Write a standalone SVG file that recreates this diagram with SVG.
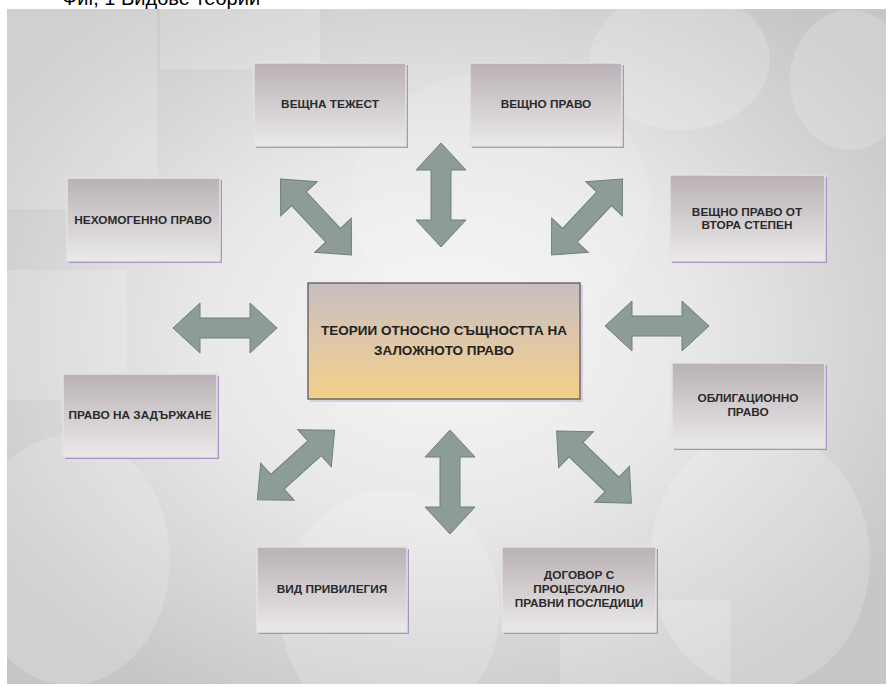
<svg xmlns="http://www.w3.org/2000/svg" width="889" height="687" viewBox="0 0 889 687">
<defs>
<radialGradient id="bg" cx="0.5" cy="0.48" r="0.62">
<stop offset="0" stop-color="#f7f7f7"/>
<stop offset="0.45" stop-color="#e8e8e8"/>
<stop offset="1" stop-color="#c6c6c6"/>
</radialGradient>
<linearGradient id="node" x1="0" y1="0" x2="0" y2="1">
<stop offset="0" stop-color="#b9b1b5"/>
<stop offset="1" stop-color="#ebe9ea"/>
</linearGradient>
<linearGradient id="center" x1="0" y1="0" x2="0" y2="1">
<stop offset="0" stop-color="#c6bec2"/>
<stop offset="0.5" stop-color="#e0c8a8"/>
<stop offset="1" stop-color="#f3cf88"/>
</linearGradient>
<path id="dbl" d="M -52,0 L -25,-25 L -25,-10 L 25,-10 L 25,-25 L 52,0 L 25,25 L 25,10 L -25,10 L -25,25 Z"/>
</defs>
<style>
.box{fill:url(#node);stroke:#e4e2e3;stroke-width:1.5}
.shadow{fill:#a892c6}
.t{font-family:"Liberation Sans",Arial,sans-serif;font-weight:bold;font-size:11.8px;fill:#2a2a2a;text-anchor:middle}
.ct{font-family:"Liberation Sans",Arial,sans-serif;font-weight:bold;font-size:13.5px;fill:#222;text-anchor:middle}
.arr{fill:#8d9d96;stroke:#718079;stroke-width:1}
.bub{fill:#ffffff;opacity:0.18}
</style>
<text x="62" y="5" style="font-family:'Liberation Sans',Arial,sans-serif;font-size:20px;fill:#000">Фиг, 1 Видове теории</text>
<g id="background">
<rect x="7" y="9" width="879" height="675" fill="url(#bg)"/>
<rect x="7" y="9" width="150" height="200" class="bub"/>
<rect x="160" y="9" width="160" height="60" class="bub"/>
<ellipse cx="70" cy="560" rx="100" ry="125" class="bub"/>
<ellipse cx="390" cy="610" rx="110" ry="120" class="bub"/>
<ellipse cx="760" cy="560" rx="110" ry="130" class="bub"/>
<ellipse cx="680" cy="60" rx="90" ry="70" class="bub"/>
<ellipse cx="850" cy="80" rx="60" ry="70" class="bub"/>
<rect x="560" y="600" width="170" height="84" class="bub"/>
<rect x="7" y="270" width="120" height="130" class="bub"/>
<ellipse cx="500" cy="200" rx="150" ry="130" fill="#ffffff" opacity="0.12"/>
</g>
<g id="connectors">
<use href="#dbl" class="arr" transform="translate(441,195) rotate(90)"/>
<use href="#dbl" class="arr" transform="translate(316,217) rotate(47)"/>
<use href="#dbl" class="arr" transform="translate(587,217) rotate(-47)"/>
<use href="#dbl" class="arr" transform="translate(225,328)"/>
<use href="#dbl" class="arr" transform="translate(657,326)"/>
<use href="#dbl" class="arr" transform="translate(296,465) rotate(-42)"/>
<use href="#dbl" class="arr" transform="translate(450,482) rotate(90)"/>
<use href="#dbl" class="arr" transform="translate(594,467) rotate(44)"/>
</g>
<g id="node-center">
<rect x="310" y="285" width="273" height="117" class="shadow" opacity="0.35"/>
<rect x="308" y="283" width="272" height="116" fill="url(#center)" stroke="#6f6a66" stroke-width="1.5"/>
<text x="444" y="335" class="ct">ТЕОРИИ ОТНОСНО СЪЩНОСТТА НА</text>
<text x="444" y="355" class="ct">ЗАЛОЖНОТО ПРАВО</text>
</g>
<g id="node-veshtna-tezhest">
<rect x="256" y="65" width="152" height="83" class="shadow"/>
<rect x="254" y="63" width="152" height="83" class="box"/>
<text x="330" y="108" class="t">ВЕЩНА ТЕЖЕСТ</text>
</g>
<g id="node-veshtno-pravo">
<rect x="472" y="65" width="152" height="83" class="shadow"/>
<rect x="470" y="63" width="152" height="83" class="box"/>
<text x="546" y="108" class="t">ВЕЩНО ПРАВО</text>
</g>
<g id="node-nehomogenno">
<rect x="69" y="180" width="153" height="83" class="shadow"/>
<rect x="67" y="178" width="153" height="83" class="box"/>
<text x="143" y="224" class="t">НЕХОМОГЕННО ПРАВО</text>
</g>
<g id="node-vtora-stepen">
<rect x="672" y="177" width="155" height="86" class="shadow"/>
<rect x="670" y="175" width="155" height="86" class="box"/>
<text x="747" y="216" class="t">ВЕЩНО ПРАВО ОТ</text>
<text x="747" y="229" class="t">ВТОРА СТЕПЕН</text>
</g>
<g id="node-zadarzhane">
<rect x="65" y="376" width="154" height="83" class="shadow"/>
<rect x="63" y="374" width="154" height="83" class="box"/>
<text x="140" y="419" class="t">ПРАВО НА ЗАДЪРЖАНЕ</text>
</g>
<g id="node-obligacionno">
<rect x="674" y="365" width="153" height="85" class="shadow"/>
<rect x="672" y="363" width="153" height="85" class="box"/>
<text x="748" y="402" class="t">ОБЛИГАЦИОННО</text>
<text x="748" y="416" class="t">ПРАВО</text>
</g>
<g id="node-privilegia">
<rect x="259" y="549" width="150" height="85" class="shadow"/>
<rect x="257" y="547" width="150" height="85" class="box"/>
<text x="332" y="593" class="t">ВИД ПРИВИЛЕГИЯ</text>
</g>
<g id="node-dogovor">
<rect x="504" y="549" width="154" height="85" class="shadow"/>
<rect x="502" y="547" width="154" height="85" class="box"/>
<text x="579" y="579" class="t">ДОГОВОР С</text>
<text x="579" y="593" class="t">ПРОЦЕСУАЛНО</text>
<text x="579" y="607" class="t">ПРАВНИ ПОСЛЕДИЦИ</text>
</g>
</svg>
